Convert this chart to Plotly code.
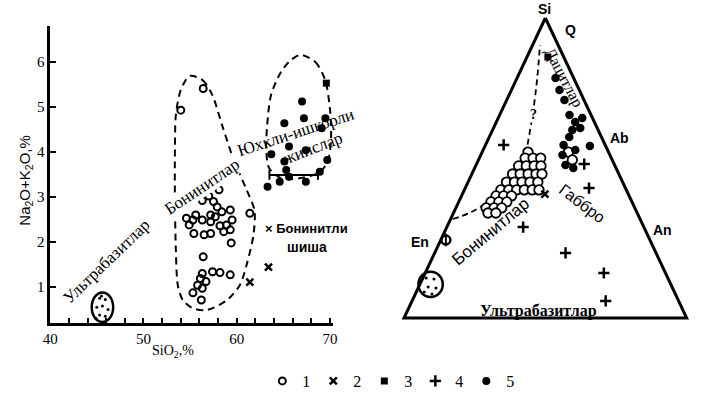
import plotly.graph_objects as go

# ---------------- Left diagram: SiO2 (%) vs Na2O+K2O (%) ----------------
bon_sio2 = [56.4, 54.0, 58.1, 57.0, 56.3, 57.5, 57.9, 59.3, 58.4, 57.2,
            57.7, 55.6, 54.6, 55.3, 56.3, 57.2, 59.5, 58.9, 58.2, 54.9,
            55.4, 56.5, 57.2, 58.6, 59.3, 59.4, 61.4, 56.4, 56.3, 57.4,
            58.2, 59.3, 56.1, 56.7, 55.8, 56.3, 55.3, 56.2]
bon_alk = [5.41, 4.93, 3.16, 3.02, 2.92, 2.90, 2.78, 2.71, 2.67, 2.60,
           2.56, 2.60, 2.53, 2.49, 2.49, 2.45, 2.49, 2.38, 2.36, 2.38,
           2.19, 2.16, 2.19, 2.23, 2.27, 1.98, 2.64, 1.67, 1.30, 1.34,
           1.32, 1.27, 1.19, 1.12, 1.04, 0.97, 0.87, 0.71]

glass_sio2 = [61.4, 63.4]
glass_alk = [1.11, 1.44]

sq_sio2 = [69.6]
sq_alk = [5.53]

hk_sio2 = [67.0, 67.2, 69.5, 65.1, 69.1, 65.6, 67.4, 65.1, 69.7, 65.3,
           65.6, 64.6, 67.4, 68.9, 63.3, 63.7]
hk_alk = [5.12, 4.75, 4.75, 4.64, 4.53, 4.12, 4.04, 3.79, 3.82, 3.60,
          3.45, 3.34, 3.34, 3.56, 3.23, 3.95]

hk_range_sio2 = [63.5, 68.7]
hk_range_alk = [3.49, 3.49]

bon_field_sio2 = [54.95, 56.32, 57.37, 58.42, 59.68, 61.05, 61.89, 61.79, 61.05, 60.32,
                  58.95, 56.84, 55.26, 54.21, 53.68, 53.47, 53.37, 53.37, 53.47, 54.0, 54.95]
bon_field_alk = [5.69, 5.60, 5.27, 4.60, 3.82, 3.16, 2.71, 2.16, 1.49, 1.04,
                 0.71, 0.49, 0.53, 0.71, 1.04, 1.82, 2.93, 4.04, 4.82, 5.38, 5.69]

hk_field_sio2 = [66.84, 68.42, 69.47, 70.0, 70.1, 69.79, 68.95, 66.84, 64.74, 63.47,
                 63.16, 63.26, 63.68, 64.74, 65.79, 66.84]
hk_field_alk = [6.16, 6.0, 5.6, 4.93, 4.27, 3.82, 3.56, 3.42, 3.42, 3.64,
                4.04, 4.6, 5.27, 5.78, 6.04, 6.16]

ub_center = [45.6, 0.55]
ub_half = [1.15, 0.33]
ub_dots_sio2 = [45.3, 45.9, 45.0, 45.6, 46.2, 45.3, 45.9, 44.9, 45.5]
ub_dots_alk = [0.75, 0.72, 0.55, 0.58, 0.50, 0.38, 0.35, 0.30, 0.80]

x_ticks = [40, 50, 60, 70]
y_ticks = [1, 2, 3, 4, 5, 6]

# ---------------- Right diagram: Si - Mg - Al (%) ----------------
tri_si = [100, 0, 0, 100]
tri_al = [0, 0, 100, 0]

tbon_si = [55.3, 53.3, 53.3, 53.3, 50.7, 50.7, 50.7, 50.7,
           48.0, 48.0, 48.0, 48.0, 48.0, 45.3, 45.3, 45.3, 45.3, 45.3,
           42.7, 42.7, 42.7, 42.7, 42.7, 42.7, 40.7, 40.7, 40.7,
           38.7, 38.7, 38.7, 36.7, 36.7, 36.7, 35.0, 35.0, 55.3, 52.7]
tbon_al = [16.2, 16.2, 19.0, 21.7, 15.2, 17.9, 20.7, 23.1,
           14.4, 17.1, 19.9, 22.7, 24.8, 13.6, 16.4, 19.1, 21.9, 24.7,
           12.9, 15.7, 18.5, 21.2, 24.0, 26.4, 12.2, 14.9, 17.7,
           11.4, 14.2, 17.0, 10.7, 13.5, 16.2, 12.2, 15.0, 30.5, 33.2]

tdac_si = [80.0, 76.0, 72.7, 67.7, 65.3, 66.7, 63.3, 62.7, 60.3, 57.7,
           57.3, 54.3, 56.0, 51.0, 50.0]
tdac_al = [13.6, 17.0, 20.4, 24.7, 27.9, 29.7, 30.7, 28.2, 28.3, 27.6,
           37.1, 28.9, 32.6, 31.6, 34.9]

tsq_si = [87.0]
tsq_al = [7.4]

tplus_si = [57.7, 51.3, 43.3, 30.3, 21.7, 15.0, 5.7]
tplus_al = [6.4, 38.1, 43.8, 27.0, 46.3, 63.2, 68.5]

tx_si = [41.3]
tx_al = [29.2]

en_si = [26.0]
en_al = [1.8]

tdash_si = [33.0, 35.0, 39.0, 44.0, 50.0, 55.0, 61.0, 68.7, 79.3, 91.0]
tdash_al = [0.7, 5.6, 10.5, 13.2, 14.8, 15.4, 13.8, 11.3, 7.4, 2.6]

tub_center = [11.2, 3.8]
tub_half = [0.043, 0.042]
tub_dots_si = [13.3, 13.0, 10.3, 10.0, 8.7, 8.0]
tub_dots_al = [1.2, 4.1, 3.4, 6.3, 2.8, 5.9]


def tern(si, al):
    """Project Si/Al percentages of a Si-Mg-Al triangle to plane coordinates."""
    xs = [(a + s / 2) / 100 for s, a in zip(si, al)]
    ys = [s / 100 for s in si]
    return xs, ys


SERIF = "Liberation Serif"
SANS = "Liberation Sans"
BLACK = "black"

fig = go.Figure()

# legend-bearing traces
fig.add_trace(go.Scatter(x=bon_sio2, y=bon_alk, mode="markers", name="1", legendgroup="1",
                         marker=dict(symbol="circle-open", size=7, color=BLACK, line=dict(width=2)),
                         cliponaxis=False))
fig.add_trace(go.Scatter(x=glass_sio2, y=glass_alk, mode="markers", name="2", legendgroup="2",
                         marker=dict(symbol="x-thin-open", size=7, color=BLACK, line=dict(width=2.5)),
                         cliponaxis=False))
fig.add_trace(go.Scatter(x=sq_sio2, y=sq_alk, mode="markers", name="3", legendgroup="3",
                         marker=dict(symbol="square", size=7, color=BLACK), cliponaxis=False))
tpx, tpy = tern(tplus_si, tplus_al)
fig.add_trace(go.Scatter(x=tpx, y=tpy, mode="markers", name="4", legendgroup="4",
                         xaxis="x2", yaxis="y2",
                         marker=dict(symbol="cross-thin-open", size=8, color=BLACK, line=dict(width=2.5)),
                         cliponaxis=False))
fig.add_trace(go.Scatter(x=hk_sio2, y=hk_alk, mode="markers", name="5", legendgroup="5",
                         marker=dict(symbol="circle", size=8, color=BLACK), cliponaxis=False))

# left fields and extras
fig.add_trace(go.Scatter(x=bon_field_sio2, y=bon_field_alk, mode="lines", showlegend=False,
                         line=dict(color=BLACK, width=2, dash="7px,5px", shape="spline", smoothing=0.8),
                         hoverinfo="skip"))
fig.add_trace(go.Scatter(x=hk_field_sio2, y=hk_field_alk, mode="lines", showlegend=False,
                         line=dict(color=BLACK, width=2, dash="7px,5px", shape="spline", smoothing=0.8),
                         hoverinfo="skip"))
fig.add_trace(go.Scatter(x=hk_range_sio2, y=hk_range_alk, mode="lines+markers", showlegend=False,
                         line=dict(color=BLACK, width=2),
                         marker=dict(symbol="line-ns-open", size=7, color=BLACK, line=dict(width=2)),
                         hoverinfo="skip"))
fig.add_trace(go.Scatter(x=ub_dots_sio2, y=ub_dots_alk, mode="markers", showlegend=False,
                         marker=dict(symbol="circle", size=3, color=BLACK), hoverinfo="skip"))

# right triangle
trx, try_ = tern(tri_si, tri_al)
fig.add_trace(go.Scatter(x=trx, y=try_, mode="lines", showlegend=False, xaxis="x2", yaxis="y2",
                         line=dict(color=BLACK, width=3), hoverinfo="skip"))
tdx, tdy = tern(tdash_si, tdash_al)
fig.add_trace(go.Scatter(x=tdx, y=tdy, mode="lines", showlegend=False, xaxis="x2", yaxis="y2",
                         line=dict(color=BLACK, width=1.8, dash="6px,4px", shape="spline"),
                         hoverinfo="skip"))
tbx, tby = tern(tbon_si, tbon_al)
fig.add_trace(go.Scatter(x=tbx, y=tby, mode="markers", showlegend=False, legendgroup="1",
                         xaxis="x2", yaxis="y2",
                         marker=dict(symbol="circle", size=9.5, color="white", line=dict(width=1.8, color=BLACK)),
                         cliponaxis=False))
tdx2, tdy2 = tern(tdac_si, tdac_al)
fig.add_trace(go.Scatter(x=tdx2, y=tdy2, mode="markers", showlegend=False, legendgroup="5",
                         xaxis="x2", yaxis="y2",
                         marker=dict(symbol="circle", size=8.5, color=BLACK), cliponaxis=False))
tsx, tsy = tern(tsq_si, tsq_al)
fig.add_trace(go.Scatter(x=tsx, y=tsy, mode="markers", showlegend=False, legendgroup="3",
                         xaxis="x2", yaxis="y2",
                         marker=dict(symbol="square", size=7, color=BLACK), cliponaxis=False))
txx, txy = tern(tx_si, tx_al)
fig.add_trace(go.Scatter(x=txx, y=txy, mode="markers", showlegend=False, legendgroup="2",
                         xaxis="x2", yaxis="y2",
                         marker=dict(symbol="x-thin-open", size=7, color=BLACK, line=dict(width=2.5)),
                         cliponaxis=False))
ex, ey = tern(en_si, en_al)
fig.add_trace(go.Scatter(x=ex, y=ey, mode="markers", showlegend=False, xaxis="x2", yaxis="y2",
                         marker=dict(symbol="circle-open", size=9, color=BLACK, line=dict(width=2.5)),
                         cliponaxis=False, hoverinfo="skip"))
fig.add_trace(go.Scatter(x=ex, y=ey, mode="markers", showlegend=False, xaxis="x2", yaxis="y2",
                         marker=dict(symbol="line-ns-open", size=9, color=BLACK, line=dict(width=2)),
                         cliponaxis=False, hoverinfo="skip"))
tux, tuy = tern(tub_dots_si, tub_dots_al)
fig.add_trace(go.Scatter(x=tux, y=tuy, mode="markers", showlegend=False, xaxis="x2", yaxis="y2",
                         marker=dict(symbol="circle", size=3, color=BLACK), hoverinfo="skip"))

# ultrabasite blobs as outlined ovals
tcx, tcy = tern([tub_center[0]], [tub_center[1]])
shapes = [
    dict(type="circle", xref="x", yref="y", x0=ub_center[0] - ub_half[0], x1=ub_center[0] + ub_half[0],
         y0=ub_center[1] - ub_half[1], y1=ub_center[1] + ub_half[1], line=dict(color=BLACK, width=2.5)),
    dict(type="circle", xref="x2", yref="y2", x0=tcx[0] - tub_half[0], x1=tcx[0] + tub_half[0],
         y0=tcy[0] - tub_half[1], y1=tcy[0] + tub_half[1], line=dict(color=BLACK, width=2.5)),
]


def ann(text, x, y, ref="", size=14, family=SERIF, angle=0, **kw):
    d = dict(text=text, x=x, y=y, xref="x" + ref, yref="y" + ref, showarrow=False,
             textangle=angle, font=dict(family=family, size=size, color=BLACK))
    d.setdefault("xanchor", "center")
    d.setdefault("yanchor", "middle")
    d.update(kw)
    return d


annotations = [
    ann("Ультрабазитлар", 46.0, 1.57, angle=-44, size=17),
    ann("Бонинитлар", 56.3, 3.23, angle=-34, size=17, bgcolor="white", borderpad=0),
    ann("Юхкли-ишкорли", 66.3, 4.44, angle=-18, size=17),
    ann("жинслар", 68.1, 4.07, angle=-21, size=17),
    ann("<b>× Бонинитли</b>", 62.8, 2.31, family=SANS, size=13, xanchor="left"),
    ann("<b>шиша</b>", 67.5, 1.89, family=SANS, size=14),
    ann("<b>Si</b>", 0.498, 1.03, ref="2", family=SANS),
    ann("<b>Q</b>", 0.589, 0.96, ref="2", family=SANS),
    ann("<b>Ab</b>", 0.762, 0.60, ref="2", family=SANS),
    ann("<b>An</b>", 0.915, 0.293, ref="2", family=SANS),
    ann("<b>En</b>", 0.057, 0.253, ref="2", family=SANS),
    ann("<b>Mg</b>", 0.0, -0.06, ref="2", family=SERIF),
    ann("<b>Al</b>", 0.998, -0.06, ref="2", family=SANS),
    ann("Дацитлар", 0.566, 0.80, ref="2", angle=62, size=16),
    ann("Габбро", 0.630, 0.383, ref="2", angle=37, family=SANS, size=16),
    ann("Бонинитлар", 0.307, 0.29, ref="2", angle=-40, family=SANS, size=17),
    ann("<b>Ультрабазитлар</b>", 0.477, 0.025, ref="2", size=16),
    ann("<b>?</b>", 0.457, 0.677, ref="2", bgcolor="white", borderpad=0),
    dict(text="Na<sub>2</sub>O+K<sub>2</sub>O,%", x=18 / 701, y=(410 - 180) / 410, xref="paper",
         yref="paper", showarrow=False, textangle=-90, xanchor="center", yanchor="middle",
         font=dict(family=SANS, size=15, color=BLACK)),
    dict(text="SiO<sub>2</sub>,%", x=168 / 701, y=(410 - 351) / 410, xref="paper", yref="paper",
         showarrow=False, xanchor="center", yanchor="middle",
         font=dict(family=SERIF, size=14, color=BLACK)),
]

fig.update_layout(
    width=701, height=410,
    margin=dict(l=0, r=0, t=0, b=0),
    paper_bgcolor="white", plot_bgcolor="white",
    showlegend=True,
    legend=dict(orientation="h", x=0.555, xanchor="center", y=(410 - 381) / 410, yanchor="middle",
                font=dict(family=SERIF, size=16, color=BLACK), itemwidth=30,
                entrywidth=6, entrywidthmode="pixels", bgcolor="rgba(0,0,0,0)"),
    xaxis=dict(domain=[43 / 701, 331 / 701], range=[40, 70.3], tickvals=x_ticks,
               showgrid=False, zeroline=False, showline=True, linecolor=BLACK, linewidth=2.5,
               ticks="inside", ticklen=5, tickwidth=2, tickcolor=BLACK,
               minor=dict(dtick=2, tick0=40, ticks="inside", ticklen=5, tickwidth=2, tickcolor=BLACK),
               tickfont=dict(family=SERIF, size=15, color=BLACK)),
    yaxis=dict(domain=[(410 - 323) / 410, (410 - 26) / 410], range=[0.2, 6.8], tickvals=y_ticks,
               showgrid=False, zeroline=False, showline=True, linecolor=BLACK, linewidth=2.5,
               ticks="inside", ticklen=6, tickwidth=2, tickcolor=BLACK,
               tickfont=dict(family=SERIF, size=15, color=BLACK)),
    xaxis2=dict(domain=[(403.5 - 8.64) / 701, (691.5 + 8.64) / 701], range=[-0.03, 1.03], visible=False),
    yaxis2=dict(domain=[(410 - 327) / 410, (410 - 9) / 410], range=[-0.03, 1.03], visible=False),
    shapes=shapes,
    annotations=annotations,
)

fig.write_html("out.html", config={"displayModeBar": False},
               post_script="document.body.style.margin='0px';")
